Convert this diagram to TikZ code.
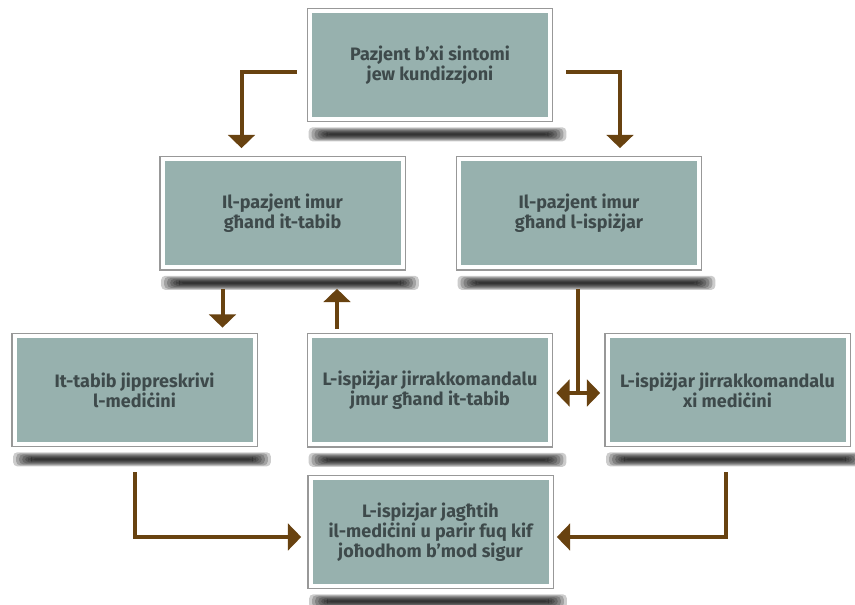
\documentclass[tikz,border=0pt]{standalone}
\usepackage{fontspec}
\setmainfont{Fira Sans}
\usetikzlibrary{arrows.meta, positioning, calc}

\definecolor{boxfill}{RGB}{151,177,174}
\definecolor{boxline}{RGB}{152,152,152}
\definecolor{arrowbrown}{RGB}{104,66,16}
\definecolor{textgray}{RGB}{62,74,75}

% soft bar under a box
\newcommand{\boxshadow}[1]{%
  \foreach \k in {1,...,7}{
    \fill[black, opacity=0.2, rounded corners=3pt]
      ([shift={(3*\k-1,-4-\k)}]#1.south west) rectangle ([shift={(16-3*\k,-20+\k)}]#1.south east);
  }}

\begin{document}
\begin{tikzpicture}[x=0.75pt, y=0.75pt,
    stepbox/.style={draw=boxline, line width=1pt, fill=white, minimum width=184pt, minimum height=85pt,
      align=center, text=textgray, font=\fontsize{13.5}{14.8}\selectfont\bfseries,
      path picture={\fill[boxfill] ([shift={(3.5pt,3.5pt)}]path picture bounding box.south west)
        rectangle ([shift={(-3.5pt,-3.5pt)}]path picture bounding box.north east);}},
    flow/.style={draw=arrowbrown, line width=3pt, -{Triangle[width=20pt,length=10pt]}},
    trunk/.style={draw=arrowbrown, line width=3pt}]
    \useasboundingbox (0,0) rectangle (855,605);
    \fill[white] (0,0) rectangle (855,605);

    \node[stepbox] (start) at (430,540) {Pazjent b’xi sintomi\\jew kundizzjoni};
    \node[stepbox] (doc) at (282.5,391.5) {Il-pazjent imur\\għand it-tabib};
    \node[stepbox] (pharm) at (579,391.5) {Il-pazjent imur\\għand l-ispiżjar};
    \node[stepbox] (presc) at (134.5,215) {It-tabib jippreskrivi\\l-mediċini};
    \node[stepbox] (recdoc) at (430,214.5) {L-ispiżjar jirrakkomandalu\\jmur għand it-tabib};
    \node[stepbox] (recmed) at (727.5,215) {L-ispiżjar jirrakkomandalu\\xi mediċini};
    \node[stepbox] (give) at (430.5,73) {L-ispizjar jagħtih\\il-mediċini u parir fuq kif\\joħodhom b’mod sigur};

    \foreach \b in {start,doc,pharm,presc,recdoc,recmed,give}
        \boxshadow{\b};

    \draw[flow] ([shift={(-10,-7)}]start.west) -| ([shift={(-41,8)}]doc.north);
    \draw[flow] ([shift={(13,-7)}]start.east) -| ([shift={(41,8)}]pharm.north);
    \draw[flow] ([shift={(-60,-18)}]doc.south) -- ([shift={(88,5)}]presc.north);
    \draw[flow] ([shift={(-93,4)}]recdoc.north) -- ([shift={(54.5,-18)}]doc.south);

    \coordinate (fork) at ($(pharm.south |- recdoc.east)+(-1,-2.5)$);
    \draw[trunk] ([shift={(-1,-18)}]pharm.south) -- (fork);
    \draw[trunk, {Triangle[width=20pt,length=10pt]}-{Triangle[width=20pt,length=10pt]}]
        ($(recdoc.east |- fork)+(3,0)$) -- ($(recmed.west |- fork)+(-4,0)$);

    \draw[flow] ([shift={(0,-25)}]presc.south) |- ([shift={(-6,-5)}]give.west);
    \draw[flow] ([shift={(-1.5,-25)}]recmed.south) |- ([shift={(3,-5)}]give.east);
\end{tikzpicture}
\end{document}
